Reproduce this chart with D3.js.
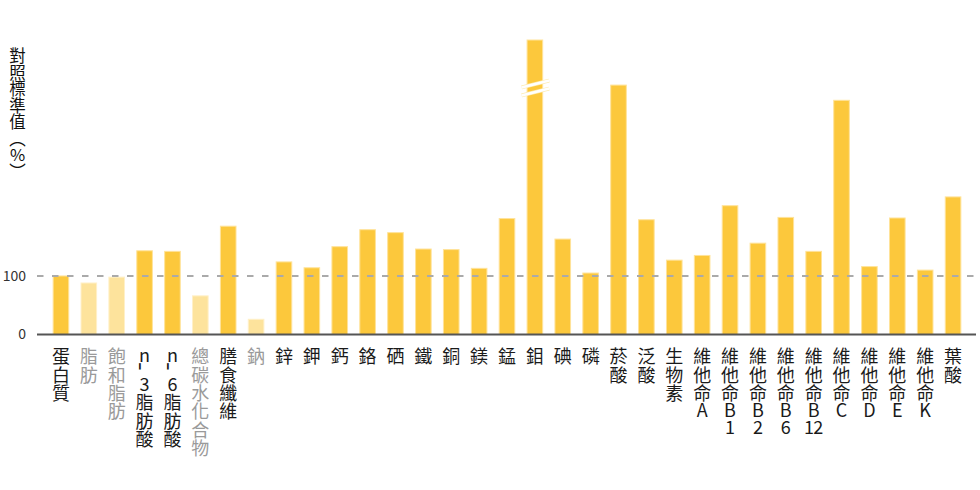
<!DOCTYPE html>
<html>
<head>
<meta charset="utf-8">
<script src="https://cdn.jsdelivr.net/npm/d3@7"></script>
<style>
  html, body { margin: 0; padding: 0; background: #fff; }
  svg { display: block; }
  .vt { writing-mode: vertical-rl; text-orientation: upright; }
  .sw { text-orientation: sideways; font-size: 25px; }
</style>
</head>
<body>
<svg id="chart" width="980" height="490"></svg>
<script>
// ---- data ----
const categories = ["蛋白質","脂肪","飽和脂肪","n-3脂肪酸","n-6脂肪酸","總碳水化合物","膳食纖維","鈉","鋅","鉀","鈣","鉻","硒","鐵","銅","鎂","錳","鉬","碘","磷","菸酸","泛酸","生物素","維他命A","維他命B1","維他命B2","維他命B6","維他命B12","維他命C","維他命D","維他命E","維他命K","葉酸"];
const values = [100, 88, 98, 143, 142, 66, 185, 26, 124, 114, 150, 179, 174, 146, 145, 113, 198, 1200, 163, 105, 426, 196, 127, 135, 220, 156, 200, 142, 400, 116, 199, 110, 235];
const dimmed = ["脂肪","飽和脂肪","總碳水化合物","鈉"];
const yTicks = [0, 100];
const referenceLine = 100;
const axisCap = 503;      // values above this are drawn with a break
const breakValue = 421;
const yTitle = "對照標準值（%）";

// ---- setup ----
const FONT = "'Noto Sans CJK TC','Noto Sans CJK SC','Noto Sans',sans-serif";
const svg = d3.select("#chart").style("font-family", FONT);
const colMain = "#fcc83c", colDim = "#fde39c";

const x = d3.scaleBand().domain(categories).range([47, 967]).paddingInner(0.44).paddingOuter(0.22);
const y = d3.scaleLinear().domain([0, axisCap]).range([334.5, 40]);

const isDim = c => dimmed.includes(c);

// bars
svg.append("g").selectAll("rect").data(categories).join("rect")
  .attr("x", c => x(c))
  .attr("width", x.bandwidth())
  .attr("y", (c, i) => y(Math.min(values[i], axisCap)))
  .attr("height", (c, i) => y(0) - y(Math.min(values[i], axisCap)))
  .attr("fill", c => isDim(c) ? colDim : colMain)
  .attr("stroke", c => isDim(c) ? "#fff0c8" : "#ffe39a")
  .attr("stroke-width", 1);

// break marks for capped bars
const brk = svg.append("g");
categories.forEach((c, i) => {
  if (values[i] <= axisCap) return;
  const x0 = x(c) - 5.5, x1 = x(c) + x.bandwidth() + 6.5;
  const yc = y(breakValue);
  [["#fdebb0", 4], ["#ffffff", 2.6]].forEach(([col, w]) => {
    [-4, 4].forEach(off => {
      brk.append("line").attr("x1", x0).attr("x2", x1)
        .attr("y1", yc + off + 3.4).attr("y2", yc + off - 3.4)
        .attr("stroke", col).attr("stroke-width", w);
    });
  });
});

// reference dashed line
svg.append("line")
  .attr("x1", 37).attr("x2", 976)
  .attr("y1", y(referenceLine)).attr("y2", y(referenceLine))
  .attr("stroke", "#aaaaaa").attr("stroke-width", 2)
  .attr("stroke-dasharray", "6.5,8.5");

// baseline axis
svg.append("line")
  .attr("x1", 37).attr("x2", 976)
  .attr("y1", y(0)).attr("y2", y(0))
  .attr("stroke", "#555555").attr("stroke-width", 2);

// y tick labels
const yAxis = d3.axisLeft(y).tickValues(yTicks).tickSize(0).tickPadding(0);
const gy = svg.append("g").attr("transform", "translate(26,0)").call(yAxis);
gy.select(".domain").remove();
gy.selectAll("text").attr("font-size", 14).attr("fill", "#333").attr("font-family", FONT);

// stacked vertical label: one <text>, per-glyph positions; multi-digit runs set side by side
function stackedLabel(parent, str, cx, top, fs, fill) {
  const chars = Array.from(str);
  const xs = [], ys = [];
  let t = top;
  let i = 0;
  while (i < chars.length) {
    const ch = chars[i];
    if (/\d/.test(ch)) {
      let j = i; while (j < chars.length && /\d/.test(chars[j])) j++;
      const n = j - i, w = 0.52 * fs;
      for (let k = 0; k < n; k++) { xs.push(cx + (k - (n - 1) / 2) * w); ys.push(t - 1.3); }
      t += 17; i = j;
    } else if (ch === "-") {
      xs.push(cx - 0.5); ys.push(t - 2.5);
      t += 12; i++;
    } else if (/[\u3000-\u9fff\uff00-\uffef]/.test(ch)) {
      xs.push(cx); ys.push(t);
      t += 18.3; i++;
    } else {
      xs.push(cx); ys.push(t - 1.3);
      t += 17; i++;
    }
  }
  const txt = parent.append("text").attr("class", "vt")
    .attr("x", xs.join(" ")).attr("y", ys.join(" "))
    .attr("font-size", fs).attr("fill", fill);
  // hyphens are set sideways so they read as a short vertical stroke
  str.split(/(-)/).filter(s => s.length).forEach(seg => {
    if (seg === "-") txt.append("tspan").attr("class", "sw").text(seg);
    else txt.node().appendChild(document.createTextNode(seg));
  });
}

// x labels
const gl = svg.append("g");
categories.forEach(c => {
  stackedLabel(gl, c, x(c) + x.bandwidth() / 2, 347.5, 18, isDim(c) ? "#9a9a9a" : "#1a1a1a");
});

// y title
svg.append("text").attr("class", "vt")
  .attr("x", 17.5).attr("y", 47.5)
  .attr("font-size", 16.5).attr("fill", "#111")
  .text(yTitle);
</script>
</body>
</html>
